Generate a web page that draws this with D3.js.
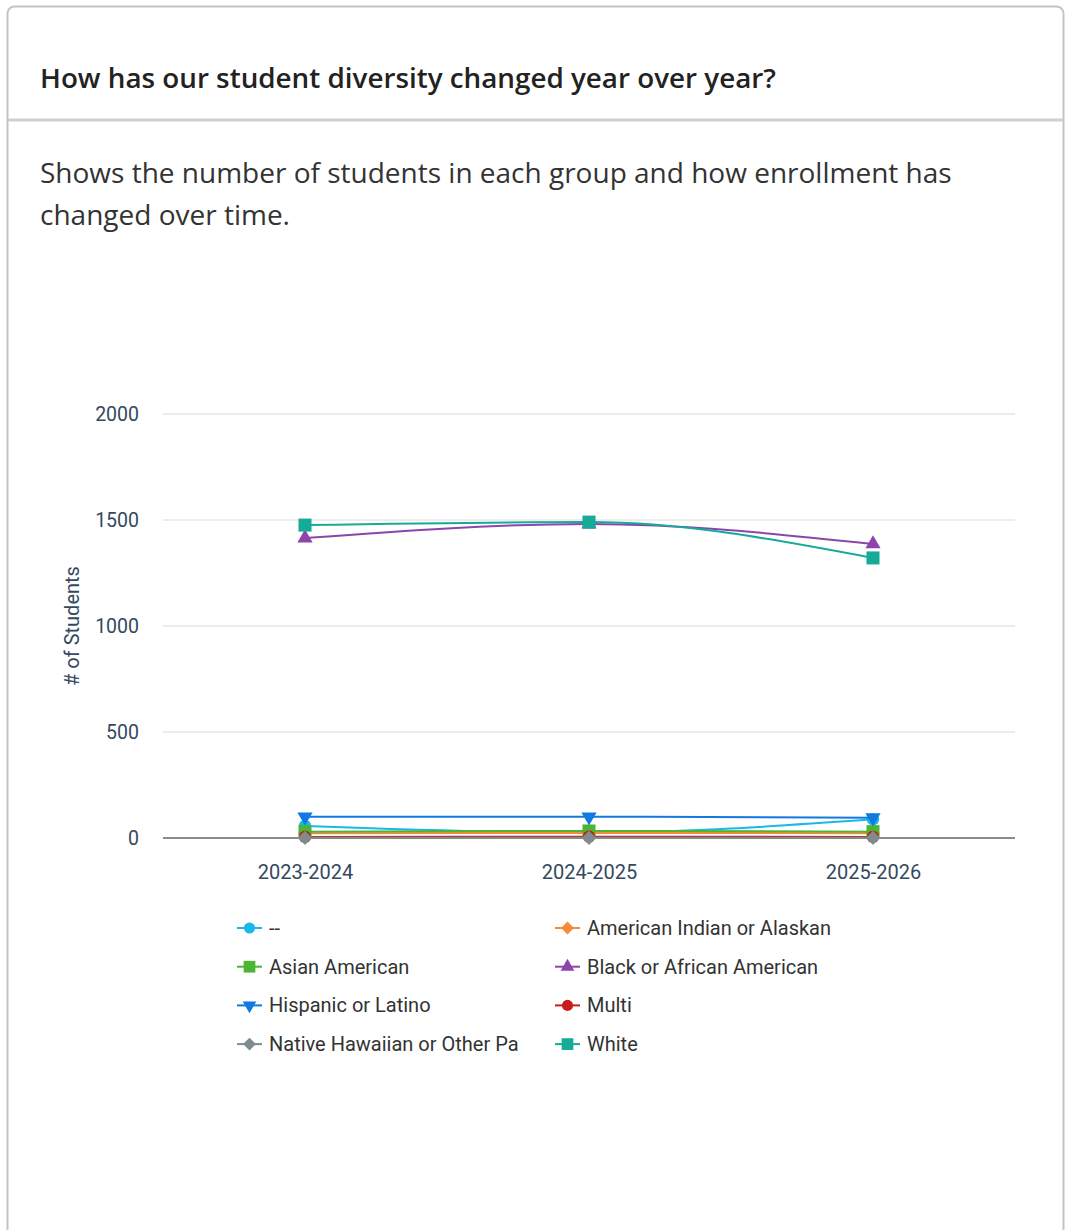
<!DOCTYPE html>
<html>
<head>
<meta charset="utf-8">
<script src="https://cdn.jsdelivr.net/npm/d3@7"></script>
<style>
  html, body { margin: 0; padding: 0; background: #fff; }
  svg { display: block; }
</style>
</head>
<body>
<svg id="chart" width="1065" height="1230"></svg>
<script>
const titleText = "How has our student diversity changed year over year?";
const subtitleLines = ["Shows the number of students in each group and how enrollment has", "changed over time."];
const yAxisTitle = "# of Students";
const categories = ["2023-2024", "2024-2025", "2025-2026"];
const yTicks = [0, 500, 1000, 1500, 2000];

const seriesNames = ["--", "American Indian or Alaskan", "Asian American", "Black or African American", "Hispanic or Latino", "Multi", "Native Hawaiian or Other Pa", "White"];
const valuesDash = [57, 25, 88];
const valuesAmIndian = [22, 24, 22];
const valuesAsian = [30, 33, 30];
const valuesBlack = [1415, 1481, 1387];
const valuesHispanic = [100, 100, 96];
const valuesMulti = [5, 6, 5];
const valuesHawaiian = [1, 1, 1];
const valuesWhite = [1476, 1490, 1321];

const seriesColors = ["#1ab7ea", "#f68a3c", "#4db533", "#8e44ad", "#1179df", "#c81b1b", "#7f8c8d", "#16ab98"];
const seriesSymbols = ["circle", "diamond", "square", "triangle", "triangle-down", "circle", "diamond", "square"];
const seriesValues = [valuesDash, valuesAmIndian, valuesAsian, valuesBlack, valuesHispanic, valuesMulti, valuesHawaiian, valuesWhite];

const svg = d3.select("#chart");

// Card
svg.append("rect").attr("x", 7.5).attr("y", 6.5).attr("width", 1056).attr("height", 1240)
  .attr("rx", 7).attr("fill", "#fff").attr("stroke", "#c4c4c4").attr("stroke-width", 2);
svg.append("line").attr("x1", 8).attr("x2", 1063).attr("y1", 120).attr("y2", 120)
  .attr("stroke", "#cfcfcf").attr("stroke-width", 3);

svg.append("text").attr("x", 40).attr("y", 88)
  .attr("font-family", "'Open Sans', sans-serif").attr("font-weight", 600)
  .attr("font-size", 27.8).attr("fill", "#222").text(titleText);

const sub = svg.append("text").attr("font-family", "'Open Sans', sans-serif")
  .attr("font-size", 28).attr("fill", "#333");
subtitleLines.forEach((l, i) => sub.append("tspan").attr("x", 40).attr("y", 183 + i * 42).text(l));

// Scales
const x = d3.scalePoint().domain(categories).range([163, 1015]).padding(0.5);
const y = d3.scaleLinear().domain([0, 2000]).range([838, 414]);

// Grid
svg.append("g").selectAll("line").data(yTicks.filter(t => t > 0)).join("line")
  .attr("x1", 163).attr("x2", 1015).attr("y1", d => y(d)).attr("y2", d => y(d))
  .attr("stroke", "#e6e6e6").attr("stroke-width", 1.5);

// Y axis
const yAxis = svg.append("g").attr("transform", "translate(163,0)")
  .call(d3.axisLeft(y).tickValues(yTicks).tickSize(0).tickPadding(24).tickFormat(d3.format("d")));
yAxis.select(".domain").remove();
yAxis.selectAll("text").attr("font-family", "Roboto, sans-serif").attr("font-size", 19.5).attr("fill", "#34495e");

svg.append("text").attr("transform", `translate(79,${y(1000)}) rotate(-90)`)
  .attr("text-anchor", "middle").attr("font-family", "Roboto, sans-serif")
  .attr("font-size", 20).attr("fill", "#34495e").text(yAxisTitle);

// X axis
const xAxis = svg.append("g").attr("transform", `translate(0,${y(0)})`)
  .call(d3.axisBottom(x).tickSize(0).tickPadding(27));
xAxis.select(".domain").attr("d", `M163,0H1015`).attr("stroke", "#666").attr("stroke-width", 1.5);
xAxis.selectAll("text").attr("font-family", "Roboto, sans-serif").attr("font-size", 20).attr("fill", "#34495e");

function symbolPath(kind) {
  const map = {
    "circle": d3.symbol(d3.symbolCircle, 120),
    "square": d3.symbol(d3.symbolSquare, 170),
    "triangle": d3.symbol(d3.symbolTriangle, 100),
    "triangle-down": d3.symbol(d3.symbolTriangle, 100),
    "diamond": d3.symbol(d3.symbolDiamond2 || d3.symbolDiamond, 130)
  };
  return map[kind]();
}
function symbolTransform(kind, px, py) {
  return kind === "triangle-down" ? `translate(${px},${py}) rotate(180)` : `translate(${px},${py})`;
}

const line = d3.line().x((d, i) => x(categories[i])).y(d => y(d)).curve(d3.curveMonotoneX);

const plot = svg.append("g");
seriesNames.forEach((name, si) => {
  const g = plot.append("g");
  g.append("path").attr("d", line(seriesValues[si])).attr("fill", "none")
    .attr("stroke", seriesColors[si]).attr("stroke-width", 2);
  g.selectAll("path.pt").data(seriesValues[si]).join("path").attr("class", "pt")
    .attr("d", symbolPath(seriesSymbols[si]))
    .attr("transform", (d, i) => symbolTransform(seriesSymbols[si], x(categories[i]), y(d)))
    .attr("fill", seriesColors[si]);
});

// Legend
const legendX = [237, 555];
const legendY0 = 928, legendDy = 38.7;
seriesNames.forEach((name, si) => {
  const col = si % 2, row = Math.floor(si / 2);
  const lx = legendX[col], ly = legendY0 + row * legendDy;
  const g = svg.append("g");
  g.append("line").attr("x1", lx).attr("x2", lx + 25).attr("y1", ly).attr("y2", ly)
    .attr("stroke", seriesColors[si]).attr("stroke-width", 2);
  g.append("path").attr("d", symbolPath(seriesSymbols[si]))
    .attr("transform", symbolTransform(seriesSymbols[si], lx + 12.5, ly) + " scale(0.9)")
    .attr("fill", seriesColors[si]);
  g.append("text").attr("x", lx + 32).attr("y", ly).attr("dy", "0.35em")
    .attr("font-family", "Roboto, sans-serif").attr("font-size", 20).attr("fill", "#333").text(name);
});
</script>
</body>
</html>
